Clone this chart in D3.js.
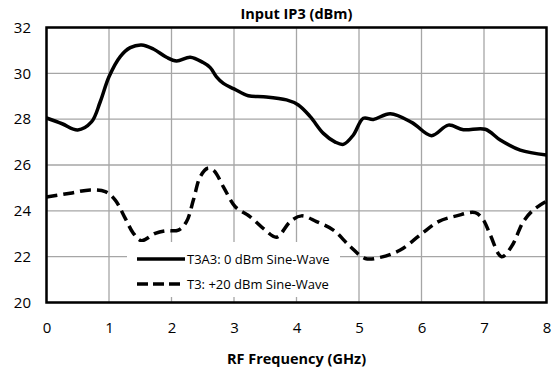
<!DOCTYPE html>
<html>
<head>
<meta charset="utf-8">
<script src="https://cdn.jsdelivr.net/npm/d3@7"></script>
<style>
  body { margin: 0; background: #fff; }
  text { font-family: "Open Sans", Carlito, Calibri, sans-serif; fill: #000; }
</style>
</head>
<body>
<script>
var width = 559, height = 375;

// frequency (GHz) / IP3 (dBm)
var freqA = [0, 0.25, 0.5, 0.72, 0.86, 1.0, 1.18, 1.34, 1.52, 1.71, 1.92, 2.08, 2.3, 2.5, 2.62, 2.72, 2.83, 3.0, 3.23, 3.47, 3.84, 4.03, 4.22, 4.43, 4.62, 4.75, 4.91, 5.07, 5.23, 5.5, 5.85, 6.16, 6.43, 6.67, 7.02, 7.26, 7.58, 8.0];
var ip3A  = [28.05, 27.8, 27.53, 27.88, 28.76, 29.85, 30.73, 31.12, 31.24, 31.06, 30.7, 30.54, 30.7, 30.48, 30.25, 29.85, 29.56, 29.32, 29.02, 28.98, 28.84, 28.62, 28.11, 27.38, 27.0, 26.9, 27.31, 28.04, 27.99, 28.24, 27.85, 27.28, 27.74, 27.54, 27.56, 27.09, 26.65, 26.44];

var freqB = [0, 0.38, 0.7, 0.94, 1.1, 1.26, 1.39, 1.52, 1.74, 1.9, 2.11, 2.24, 2.35, 2.46, 2.58, 2.68, 2.83, 3.02, 3.26, 3.5, 3.68, 3.9, 4.08, 4.32, 4.59, 4.86, 5.1, 5.34, 5.66, 5.98, 6.27, 6.56, 6.86, 6.99, 7.1, 7.28, 7.44, 7.63, 7.79, 8.0];
var ip3B  = [24.6, 24.77, 24.91, 24.84, 24.47, 23.67, 23.02, 22.7, 23.02, 23.13, 23.16, 23.53, 24.47, 25.49, 25.86, 25.75, 25.05, 24.18, 23.74, 23.16, 22.85, 23.53, 23.78, 23.53, 23.16, 22.44, 21.92, 21.97, 22.29, 22.95, 23.53, 23.78, 23.92, 23.6, 22.95, 22.0, 22.44, 23.53, 24.04, 24.42];

var seriesNames = ["T3A3: 0 dBm Sine-Wave", "T3: +20 dBm Sine-Wave"];
var xTicks = [0, 1, 2, 3, 4, 5, 6, 7, 8];
var yTicks = [20, 22, 24, 26, 28, 30, 32];

var pL = 46.5, pT = 27.5, pR = 546.5, pB = 302.5;

var svg = d3.select("body").append("svg").attr("width", width).attr("height", height)

var x = d3.scaleLinear().domain([0, 8]).range([pL, pR])
var y = d3.scaleLinear().domain([20, 32]).range([pB, pT])

// grid
svg.append("g").attr("class", "grid-x").selectAll("line").data(xTicks).enter().append("line")
    .attr("x1", d => x(d)).attr("x2", d => x(d)).attr("y1", pT).attr("y2", pB)
    .attr("stroke", "#a6a6a6").attr("stroke-width", 1.3)
svg.append("g").attr("class", "grid-y").selectAll("line").data(yTicks).enter().append("line")
    .attr("x1", pL).attr("x2", pR).attr("y1", d => y(d)).attr("y2", d => y(d))
    .attr("stroke", "#a6a6a6").attr("stroke-width", 1.3)

// axes (labels only, no tick marks)
var xAxis = svg.append("g").attr("transform", "translate(0," + pB + ")")
    .call(d3.axisBottom(x).tickValues(xTicks).tickSize(0).tickPadding(19.5).tickFormat(d3.format("d")))
xAxis.select(".domain").remove()
xAxis.selectAll("text").attr("font-size", "15px").style("font-family", null)

var yAxis = svg.append("g").attr("transform", "translate(" + pL + ",0)")
    .call(d3.axisLeft(y).tickValues(yTicks).tickSize(0).tickPadding(15.5).tickFormat(d3.format("d")))
yAxis.select(".domain").remove()
yAxis.selectAll("text").attr("font-size", "15px").style("font-family", null)

var line = d3.line().curve(d3.curveCatmullRom.alpha(0.5))

var ptsA = freqA.map((f, i) => [x(f), y(ip3A[i])])
var ptsB = freqB.map((f, i) => [x(f), y(ip3B[i])])

svg.append("path").attr("d", line(ptsB)).attr("fill", "none")
    .attr("stroke", "#000").attr("stroke-width", 3.5).attr("stroke-dasharray", "11,6")
svg.append("path").attr("d", line(ptsA)).attr("fill", "none")
    .attr("stroke", "#000").attr("stroke-width", 3.5).attr("stroke-linejoin", "round")

// legend
var lg = svg.append("g").attr("class", "legend")
lg.append("rect").attr("x", 127).attr("y", 242).attr("width", 213).attr("height", 55).attr("fill", "#fff")
lg.append("line").attr("x1", 137).attr("x2", 185).attr("y1", 259).attr("y2", 259)
    .attr("stroke", "#000").attr("stroke-width", 3.5)
lg.append("line").attr("x1", 137).attr("x2", 181).attr("y1", 284).attr("y2", 284)
    .attr("stroke", "#000").attr("stroke-width", 3.5).attr("stroke-dasharray", "11,5")
lg.selectAll("text").data(seriesNames).enter().append("text")
    .attr("x", 187).attr("y", (d, i) => 259 + i * 25).attr("dy", "0.35em")
    .attr("font-size", "13px").text(d => d)

// frame
svg.append("rect").attr("x", pL).attr("y", pT).attr("width", pR - pL).attr("height", pB - pT)
    .attr("fill", "none").attr("stroke", "#000").attr("stroke-width", 2.5)

// titles
svg.append("text").attr("x", (pL + pR) / 2).attr("y", 19).attr("text-anchor", "middle")
    .attr("font-size", "14.5px").attr("font-weight", "bold").text("Input IP3 (dBm)")
svg.append("text").attr("x", (pL + pR) / 2).attr("y", 364).attr("text-anchor", "middle")
    .attr("font-size", "14.5px").attr("font-weight", "bold").text("RF Frequency (GHz)")
</script>
</body>
</html>
